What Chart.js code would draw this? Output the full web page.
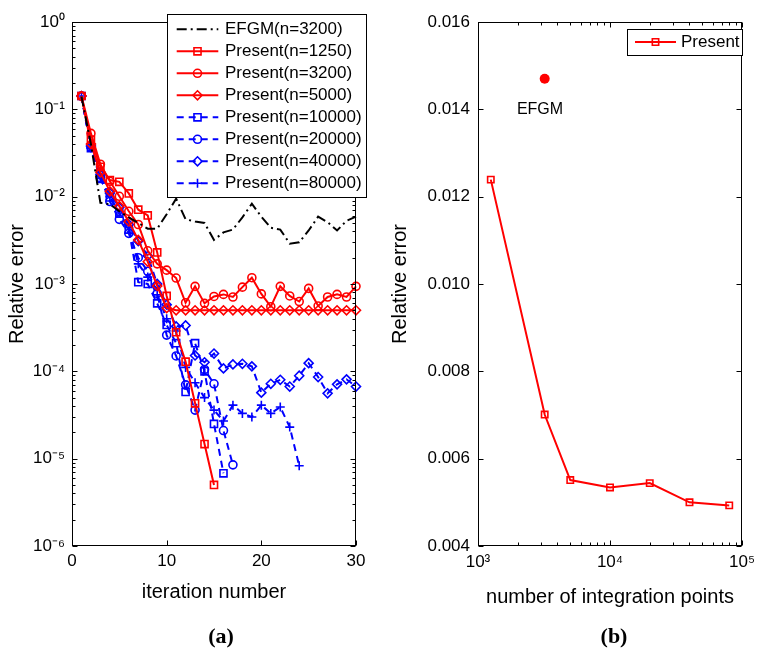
<!DOCTYPE html>
<html>
<head>
<meta charset="utf-8">
<script src="https://cdn.jsdelivr.net/npm/chart.js@4.4.1/dist/chart.umd.min.js"></script>
<style>
  body { margin: 0; background: #fff; width: 761px; height: 649px; position: relative; overflow: hidden; }
  canvas { position: absolute; top: 0; }
  #chartA { left: 0; }
  #chartB { left: 380px; }
  .tag { position: absolute; top: 623px; line-height: 24px; font: bold 22px "Liberation Serif", "Times New Roman", serif; transform: translateX(-50%); }
</style>
</head>
<body>
<canvas id="chartA" width="390" height="649"></canvas>
<canvas id="chartB" width="381" height="649"></canvas>
<div class="tag" style="left:221px">(a)</div>
<div class="tag" style="left:614px">(b)</div>
<script>
// (a) relative error vs iteration
const iterations = [1, 2, 3, 4, 5, 6, 7, 8, 9, 10, 11, 12, 13, 14, 15, 16, 17, 18, 19, 20, 21, 22, 23, 24, 25, 26, 27, 28, 29, 30];
const efgm3200 = [0.14, 0.04, 0.0085, 0.0082, 0.0068, 0.0058, 0.005, 0.0043, 0.0043, 0.0063, 0.0095, 0.0055, 0.0052, 0.005, 0.0032,
  0.0039, 0.0042, 0.0058, 0.0083, 0.0059, 0.0044, 0.0042, 0.0029, 0.003, 0.0041, 0.0059, 0.0051, 0.0041, 0.0053, 0.0059];
const present1250 = [0.142, 0.045, 0.022, 0.0155, 0.0148, 0.0109, 0.0071, 0.0061, 0.0023, 0.00073, 0.00028, 0.000129, 0.000043, 0.0000147, 0.000005];
const present3200 = [0.142, 0.053, 0.0235, 0.015, 0.0101, 0.0068, 0.0048, 0.0024, 0.0017, 0.00144, 0.00117, 0.00061, 0.00094, 0.0006, 0.00072,
  0.00076, 0.00071, 0.00092, 0.00118, 0.00077, 0.00055, 0.00094, 0.00073, 0.00063, 0.00089, 0.00056, 0.00071, 0.00076, 0.00071, 0.00094];
const present5000 = [0.142, 0.04, 0.019, 0.0115, 0.0078, 0.0052, 0.0032, 0.0018, 0.00095, 0.00053, 0.0005, 0.0005, 0.0005, 0.0005, 0.0005,
  0.0005, 0.0005, 0.0005, 0.0005, 0.0005, 0.0005, 0.0005, 0.0005, 0.0005, 0.0005, 0.0005, 0.0005, 0.0005, 0.0005, 0.0005];
const present10000 = [0.142, 0.036, 0.016, 0.0098, 0.0064, 0.0042, 0.00105, 0.001, 0.0006, 0.00034, 0.00021, 0.000058, 0.00021, 0.0001, 0.000025, 0.0000068];
const present20000 = [0.142, 0.037, 0.0165, 0.0088, 0.0055, 0.0038, 0.002, 0.0014, 0.00078, 0.00026, 0.00015, 0.00007, 0.000036, 0.000105, 0.000072, 0.000021, 0.0000085];
const present40000 = [0.142, 0.038, 0.018, 0.011, 0.0075, 0.0048, 0.0031, 0.0021, 0.001, 0.00058, 0.000327, 0.000335, 0.000152, 0.000127, 0.00016,
  0.000108, 0.00012, 0.000122, 0.000114, 0.000057, 0.000072, 0.00008, 0.000067, 0.000089, 0.000124, 0.000086, 0.000056, 0.000071, 0.000081, 0.000067];
const present80000 = [0.142, 0.036, 0.0162, 0.01, 0.0065, 0.0044, 0.0017, 0.0012, 0.00075, 0.0004, 0.00029, 0.000111, 0.000074, 0.00005, 0.000036,
  0.000027, 0.000041, 0.000033, 0.00003, 0.000041, 0.000033, 0.000039, 0.000023, 0.0000083];
const iterTicks = [0, 10, 20, 30];
const errDecades = [1e-6, 1e-5, 1e-4, 1e-3, 1e-2, 1e-1, 1];

// (b) relative error vs number of integration points
const nPoints = [1250, 3200, 5000, 10000, 20000, 40000, 80000];
const presentErr = [0.01239, 0.00701, 0.00551, 0.00534, 0.00544, 0.005, 0.00493];
const efgmN = [3200];
const efgmErr = [0.0147];
const nTicks = [1e3, 1e4, 1e5];
const errTicks = [0.004, 0.006, 0.008, 0.01, 0.012, 0.014, 0.016];

Chart.defaults.font.family = "'Liberation Sans', Arial, sans-serif";
Chart.defaults.color = '#000';

const SUP = { '-': '\u207B', '0': '\u2070', '1': '\u00B9', '2': '\u00B2', '3': '\u00B3', '4': '\u2074', '5': '\u2075', '6': '\u2076', '7': '\u2077', '8': '\u2078', '9': '\u2079' };
function pow10Label(v) {
    const e = String(Math.round(Math.log10(v)));
    return '10' + e.split('').map(c => SUP[c]).join('');
}

function series(label, xs, ys, color, style, radius, dash) {
    return {
        label: label,
        data: ys.map((y, i) => ({ x: xs[i], y: y })),
        borderColor: color,
        pointBorderColor: color,
        backgroundColor: 'rgba(0,0,0,0)',
        pointBackgroundColor: 'rgba(0,0,0,0)',
        borderWidth: 2,
        borderDash: dash,
        pointStyle: style,
        pointRadius: radius,
        pointHoverRadius: radius,
        pointBorderWidth: 1.6,
        tension: 0,
        clip: false
    };
}

// box + inward ticks on all four sides, like the original figure
const framePlugin = {
    id: 'frame',
    afterDatasetsDraw(chart) {
        const { ctx, chartArea: a, scales } = chart;
        const L = Math.round(a.left) + 0.5, R = Math.round(a.right) - 0.5;
        const T = Math.round(a.top) + 0.5, B = Math.round(a.bottom) - 0.5;
        ctx.save();
        ctx.strokeStyle = '#000';
        ctx.lineWidth = 1;
        ctx.setLineDash([]);
        ctx.strokeRect(L, T, R - L, B - T);
        ctx.beginPath();
        const tick = (s, v, len) => {
            const p = Math.round(s.getPixelForValue(v)) + 0.5;
            if (s.isHorizontal()) {
                ctx.moveTo(p, B); ctx.lineTo(p, B - len);
                ctx.moveTo(p, T); ctx.lineTo(p, T + len);
            } else {
                ctx.moveTo(L, p); ctx.lineTo(L + len, p);
                ctx.moveTo(R, p); ctx.lineTo(R - len, p);
            }
        };
        [scales.x, scales.y].forEach(s => {
            s.ticks.forEach(t => tick(s, t.value, 5));
            if (s.type === 'logarithmic') {
                s.ticks.slice(0, -1).forEach(t => {
                    for (let m = 2; m < 10; m++) tick(s, t.value * m, 3);
                });
            }
        });
        ctx.stroke();
        ctx.restore();
    }
};

// MATLAB-style legend: line sample with marker in the middle
const boxLegend = {
    id: 'boxLegend',
    afterDraw(chart, args, o) {
        const ctx = chart.ctx;
        ctx.save();
        ctx.fillStyle = '#fff';
        ctx.fillRect(o.x, o.y, o.w, o.h);
        ctx.strokeStyle = '#000';
        ctx.lineWidth = 1;
        ctx.setLineDash([]);
        ctx.strokeRect(o.x + 0.5, o.y + 0.5, o.w, o.h);
        ctx.font = o.font;
        ctx.textBaseline = 'middle';
        o.items.forEach((di, k) => {
            const ds = chart.data.datasets[di];
            const y = o.y + o.first + k * o.step;
            const x0 = o.x + o.lineFrom, x1 = o.x + o.lineTo;
            ctx.strokeStyle = ds.borderColor;
            ctx.lineWidth = ds.borderWidth;
            ctx.setLineDash(ds.borderDash || []);
            ctx.beginPath();
            ctx.moveTo(x0, y);
            ctx.lineTo(x1, y);
            ctx.stroke();
            ctx.setLineDash([]);
            if (ds.pointRadius > 0) {
                ctx.lineWidth = ds.pointBorderWidth;
                ctx.fillStyle = ds.pointBackgroundColor;
                Chart.helpers.drawPoint(ctx, { pointStyle: ds.pointStyle, radius: ds.pointRadius, rotation: 0, borderWidth: ds.pointBorderWidth }, (x0 + x1) / 2, y);
            }
            ctx.fillStyle = '#000';
            ctx.fillText(ds.label, o.x + o.textX, y);
        });
        ctx.restore();
    }
};

const efgmNote = {
    id: 'efgmNote',
    afterDatasetsDraw(chart, args, o) {
        const ctx = chart.ctx;
        ctx.save();
        ctx.font = o.font;
        ctx.fillStyle = '#000';
        ctx.textAlign = 'center';
        ctx.textBaseline = 'middle';
        ctx.fillText(o.text, chart.scales.x.getPixelForValue(o.at[0]), chart.scales.y.getPixelForValue(o.at[1]));
        ctx.restore();
    }
};

const tickFont = { size: 17 };
const titleFont = { size: 20 };

new Chart(document.getElementById('chartA'), {
    type: 'line',
    data: {
        datasets: [
            series('EFGM(n=3200)', iterations, efgm3200, '#000', 'circle', 0, [10, 4, 2, 4]),
            series('Present(n=1250)', iterations, present1250, '#ff0000', 'rect', 5, []),
            series('Present(n=3200)', iterations, present3200, '#ff0000', 'circle', 4, []),
            series('Present(n=5000)', iterations, present5000, '#ff0000', 'rectRot', 4.5, []),
            series('Present(n=10000)', iterations, present10000, '#0000ff', 'rect', 5, [7, 5]),
            series('Present(n=20000)', iterations, present20000, '#0000ff', 'circle', 4, [7, 5]),
            series('Present(n=40000)', iterations, present40000, '#0000ff', 'rectRot', 4.5, [7, 5]),
            series('Present(n=80000)', iterations, present80000, '#0000ff', 'cross', 4.5, [7, 5])
        ]
    },
    options: {
        responsive: false,
        animation: false,
        events: [],
        layout: { padding: { top: 22, right: 34, left: 0, bottom: 0 } },
        scales: {
            x: {
                type: 'linear',
                min: 0,
                max: 30,
                afterBuildTicks: s => { s.ticks = iterTicks.map(v => ({ value: v })); },
                afterFit: s => { s.height = 103; },
                grid: { display: false, drawTicks: false },
                border: { display: false },
                ticks: { font: tickFont, padding: 5, maxRotation: 0 },
                title: { display: true, text: 'iteration number', font: titleFont, padding: { top: 0, bottom: 44.3 } }
            },
            y: {
                type: 'logarithmic',
                min: 1e-6,
                max: 1,
                afterBuildTicks: s => { s.ticks = errDecades.map(v => ({ value: v })); },
                afterFit: s => { s.width = 72; },
                grid: { display: false, drawTicks: false },
                border: { display: false },
                ticks: { font: tickFont, padding: 7, callback: v => pow10Label(v) },
                title: { display: true, text: 'Relative error', font: titleFont, padding: { top: 5, bottom: 0 } }
            }
        },
        plugins: {
            legend: { display: false },
            tooltip: { enabled: false },
            boxLegend: { x: 167, y: 14, w: 199, h: 183, first: 15.3, step: 22, lineFrom: 9.7, lineTo: 51.3, textX: 58, font: "17px 'Liberation Sans', Arial, sans-serif", items: [0, 1, 2, 3, 4, 5, 6, 7] }
        }
    },
    plugins: [framePlugin, boxLegend]
});

new Chart(document.getElementById('chartB'), {
    type: 'line',
    data: {
        datasets: [
            series('Present', nPoints, presentErr, '#ff0000', 'rect', 4.5, []),
            {
                label: 'EFGM',
                data: efgmN.map((n, i) => ({ x: n, y: efgmErr[i] })),
                showLine: false,
                pointStyle: 'circle',
                pointRadius: 5,
                pointHoverRadius: 5,
                pointBackgroundColor: '#ff0000',
                pointBorderColor: '#ff0000',
                pointBorderWidth: 0,
                clip: false
            }
        ]
    },
    options: {
        responsive: false,
        animation: false,
        events: [],
        layout: { padding: { top: 22, right: 13, left: 0, bottom: 0 } },
        scales: {
            x: {
                type: 'logarithmic',
                min: 1e3,
                max: 1e5,
                afterBuildTicks: s => { s.ticks = nTicks.map(v => ({ value: v })); },
                afterFit: s => { s.height = 103; },
                grid: { display: false, drawTicks: false },
                border: { display: false },
                ticks: { font: tickFont, padding: 6, maxRotation: 0, callback: v => pow10Label(v) },
                title: { display: true, text: 'number of integration points', font: titleFont, padding: { top: 0, bottom: 40 } }
            },
            y: {
                type: 'linear',
                min: 0.004,
                max: 0.016,
                afterBuildTicks: s => { s.ticks = errTicks.map(v => ({ value: v })); },
                afterFit: s => { s.width = 98; },
                grid: { display: false, drawTicks: false },
                border: { display: false },
                ticks: { font: tickFont, padding: 8, callback: v => v.toFixed(3) },
                title: { display: true, text: 'Relative error', font: titleFont, padding: { top: 8, bottom: 0 } }
            }
        },
        plugins: {
            legend: { display: false },
            tooltip: { enabled: false },
            boxLegend: { x: 247, y: 29, w: 115, h: 26, first: 13, step: 0, lineFrom: 8, lineTo: 49, textX: 54, font: "17px 'Liberation Sans', Arial, sans-serif", items: [0] },
            efgmNote: { text: 'EFGM', at: [2950, 0.0140], font: "16px 'Liberation Sans', Arial, sans-serif" }
        }
    },
    plugins: [framePlugin, boxLegend, efgmNote]
});
</script>
</body>
</html>
